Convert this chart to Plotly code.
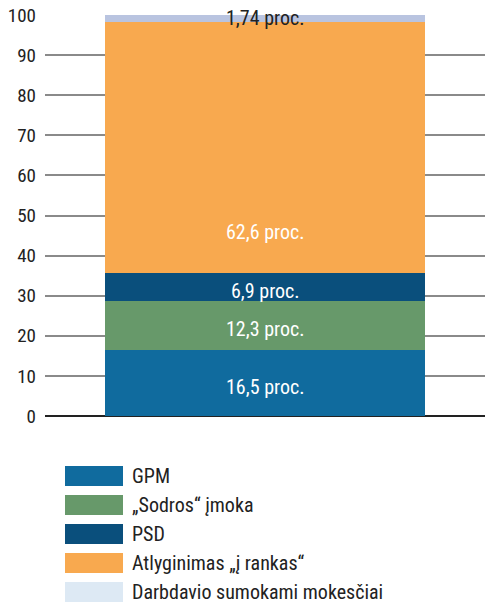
import plotly.graph_objects as go

FONT = "Roboto Condensed, Liberation Sans Narrow, Roboto, sans-serif"

category = ["Darbo užmokestis"]
series_names = ["GPM", "„Sodros“ įmoka", "PSD", "Atlyginimas „į rankas“", "Darbdavio sumokami mokesčiai"]
series_values = [16.5, 12.3, 6.9, 62.6, 1.74]
series_labels = ["16,5 proc.", "12,3 proc.", "6,9 proc.", "62,6 proc.", "1,74 proc."]
bar_colors = ["#106b9e", "#67996a", "#0a4f7c", "#f8a94f", "#b9c4e0"]
legend_colors = ["#106b9e", "#67996a", "#0a4f7c", "#f8a94f", "#dde9f4"]
label_colors = ["white", "white", "white", "white", "#222222"]
y_ticks = list(range(0, 101, 10))

fig = go.Figure()
base = 0
for name, val, lab, col, tcol in zip(series_names, series_values, series_labels, bar_colors, label_colors):
    fig.add_trace(go.Bar(
        x=category, y=[val], name=name,
        marker=dict(color=col, line=dict(width=0)),
        showlegend=False, hoverinfo="skip",
    ))
    if val > 50:
        # the big segment's label sits low, just above its base
        ly, shift = base + 10.2, 0
    elif val < 3:
        ly, shift = base + val / 2, 0
    else:
        ly, shift = base + val / 2, -4
    fig.add_annotation(x=category[0], y=ly, yshift=shift, text=lab, showarrow=False,
                       font=dict(family=FONT, size=20, color=tcol))
    base += val

# manual legend with large swatches
for i, (name, col) in enumerate(zip(series_names, legend_colors)):
    y0 = 466 + i * 29
    fig.add_shape(type="rect", xref="paper", yref="paper",
                  x0=(65 - 45) / 440, x1=(123 - 45) / 440,
                  y0=(416 - y0 - 20) / 401, y1=(416 - y0) / 401,
                  fillcolor=col, line=dict(width=0))
    fig.add_annotation(xref="paper", yref="paper",
                       x=(130 - 45) / 440, y=(416 - y0 - 10) / 401,
                       text=name, showarrow=False, xanchor="left", yanchor="middle",
                       font=dict(family=FONT, size=20, color="#222222"))

fig.update_layout(
    barmode="stack",
    bargap=0.273,
    width=485, height=604,
    margin=dict(l=45, r=0, t=15, b=188),
    plot_bgcolor="white", paper_bgcolor="white",
    font=dict(family=FONT, size=19, color="#222222"),
    xaxis=dict(showticklabels=False, showgrid=False, zeroline=False, showline=False),
    yaxis=dict(range=[0, 100], tickvals=y_ticks, showgrid=True, gridcolor="#8a8a8a",
               gridwidth=1.5, zeroline=True, zerolinecolor="#222222", zerolinewidth=1.5,
               ticks="", ticklabelstandoff=8, tickfont=dict(family=FONT, size=19, color="#222222")),
)

fig.write_html("out.html", config={"displayModeBar": False},
               post_script="document.body.style.margin='0';")
